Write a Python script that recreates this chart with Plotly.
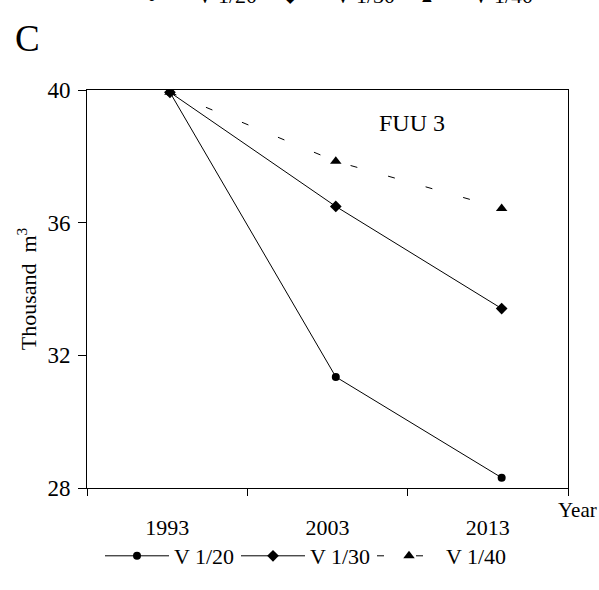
import plotly.graph_objects as go

# ---- data ----
years = [1993, 2003, 2013]
series_names = ["V 1/20", "V 1/30", "V 1/40"]
v_1_20 = [39.93, 31.35, 28.31]
v_1_30 = [39.93, 36.49, 33.41]
v_1_40 = [39.93, 37.85, 36.43]
year_labels = ["1993", "2003", "2013"]
y_ticks = [28, 32, 36, 40]

# ---- layout constants ----
W, H = 599, 590
ML, MR, MT, MB = 87, 31, 90, 102
FONT = "Liberation Serif, Times New Roman, serif"
X_RANGE = [1988, 2017]
Y_RANGE = [28, 40]
x_bounds = [1988, 1988 + 29 / 3, 1988 + 58 / 3, 2017]
x_label_pos = [(x_bounds[i] + x_bounds[i + 1]) / 2 for i in range(3)]

def px_to_paper_x(px):
    return (px - ML) / (W - ML - MR)

def px_to_paper_y(py):
    return (H - MB - py) / (H - MT - MB)

styles = [
    dict(symbol="circle", size=8, dash="solid"),
    dict(symbol="diamond", size=9, dash="solid"),
    dict(symbol="triangle-up", size=10, dash="7px,32px"),
]
values = [v_1_20, v_1_30, v_1_40]

fig = go.Figure()
for name, vals, st in zip(series_names, values, styles):
    fig.add_trace(go.Scatter(
        x=years, y=vals, name=name, mode="lines+markers",
        line=dict(color="black", width=1, dash=st["dash"]),
        marker=dict(symbol=st["symbol"], size=st["size"], color="black"),
    ))

annotations = [
    dict(text="FUU 3", x=2007.6, y=39.0, xref="x", yref="y", showarrow=False,
         xanchor="center", yanchor="middle",
         font=dict(size=24, family=FONT, color="black")),
    dict(text="C", x=px_to_paper_x(13), y=px_to_paper_y(16), xref="paper", yref="paper",
         xanchor="left", yanchor="top", showarrow=False,
         font=dict(size=37, family=FONT, color="black")),
    dict(text="Year", x=px_to_paper_x(599), y=px_to_paper_y(510), xref="paper", yref="paper",
         xanchor="right", yanchor="middle", showarrow=False,
         font=dict(size=21, family=FONT, color="black")),
]
# cropped legend of the previous panel at the very top
top_marker_x = [152, 290, 427]
top_text_x = [195, 333, 471]
top_syms = ["\u25CF", "\u25C6", "\u25B2"]
for name, mx, tx, sym in zip(series_names, top_marker_x, top_text_x, top_syms):
    annotations.append(dict(text=sym, x=px_to_paper_x(mx), y=px_to_paper_y(-3), xref="paper",
                            yref="paper", xanchor="center", yanchor="middle", showarrow=False,
                            font=dict(size=16, family=FONT, color="black")))
    annotations.append(dict(text=name, x=px_to_paper_x(tx), y=px_to_paper_y(-4), xref="paper",
                            yref="paper", xanchor="left", yanchor="middle", showarrow=False,
                            font=dict(size=22, family=FONT, color="black")))

fig.update_layout(
    width=W, height=H,
    margin=dict(l=ML, r=MR, t=MT, b=MB),
    paper_bgcolor="white", plot_bgcolor="white",
    font=dict(family=FONT, size=22, color="black"),
    showlegend=True,
    legend=dict(orientation="h", x=px_to_paper_x(100), xanchor="left",
                y=px_to_paper_y(556), yanchor="middle",
                font=dict(size=22, family=FONT), itemwidth=64,
                entrywidth=57, entrywidthmode="pixels",
                bgcolor="rgba(0,0,0,0)", traceorder="normal"),
    annotations=annotations,
    xaxis=dict(range=X_RANGE, tickmode="array", tickvals=x_label_pos, ticktext=year_labels,
               ticks="", ticklabelstandoff=20, showgrid=False, zeroline=False,
               showline=True, linecolor="black", linewidth=1, mirror=True,
               tickfont=dict(size=22),
               minor=dict(tickmode="array", tickvals=x_bounds, ticks="outside",
                          ticklen=7, tickcolor="black", tickwidth=1, showgrid=False)),
    yaxis=dict(range=Y_RANGE, tickmode="array", tickvals=y_ticks,
               ticks="outside", ticklen=8, tickcolor="black", tickwidth=1,
               ticklabelstandoff=3, showgrid=False, zeroline=False,
               showline=True, linecolor="black", linewidth=1, mirror=True,
               tickfont=dict(size=23),
               title=dict(text="Thousand  m<sup>3</sup>", font=dict(size=22), standoff=4)),
)

fig.write_html("out.html")
